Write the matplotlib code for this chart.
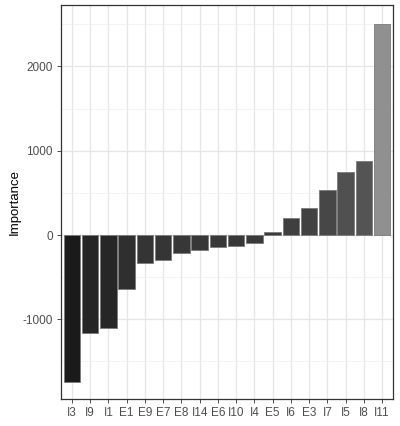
import matplotlib
matplotlib.use("Agg")
import matplotlib.pyplot as plt
import numpy as np
from matplotlib.colors import LinearSegmentedColormap, Normalize

categories = ["I3", "I9", "I1", "E1", "E9", "E7", "E8", "I14", "E6", "I10", "I4",
              "E5", "I6", "E3", "I7", "I5", "I8", "I11"]
importance = [-1740, -1166, -1100, -640, -332, -300, -210, -182, -142, -127, -95,
              32, 205, 324, 530, 747, 874, 2503]

plt.rcParams['font.family'] = ['Liberation Sans', 'DejaVu Sans']

fig = plt.figure(figsize=(4.0, 4.26), dpi=100)
ax = fig.add_axes([61/400, 1-399/426, (393-61)/400, (399-5)/426])

cmap = LinearSegmentedColormap.from_list("g", ["#1a1a1a", "#424242", "#909090"])
norm = Normalize(vmin=min(importance), vmax=max(importance))
x = np.arange(len(categories))
colors = [cmap(norm(v)) for v in importance]
ax.bar(x, importance, width=0.9, color=colors, edgecolor="#7a7a7a", linewidth=0.6, zorder=3)

ax.set_xlim(-0.6, len(categories) - 0.4)
ax.set_ylim(-1945, 2728)
ax.set_yticks([-1000, 0, 1000, 2000])
ax.set_yticklabels(["-1000", "0", "1000", "2000"])
ax.set_yticks([-1500, -500, 500, 1500, 2500], minor=True)
ax.set_xticks(x)
ax.set_xticklabels(categories)

ax.grid(True, which="major", color="#e6e6e6", linewidth=0.9, zorder=0)
ax.grid(True, which="minor", axis="y", color="#efefef", linewidth=0.5, zorder=0)
ax.tick_params(which="minor", length=0)
ax.tick_params(which="major", length=3, color="#333333", width=0.6,
               labelsize=8.5, labelcolor="#4d4d4d", pad=3)
for s in ax.spines.values():
    s.set_color("#333333")
    s.set_linewidth(0.9)

ax.set_ylabel("Importance", fontsize=9.5, color="black", labelpad=1)

fig.savefig("out.png", dpi=100)
